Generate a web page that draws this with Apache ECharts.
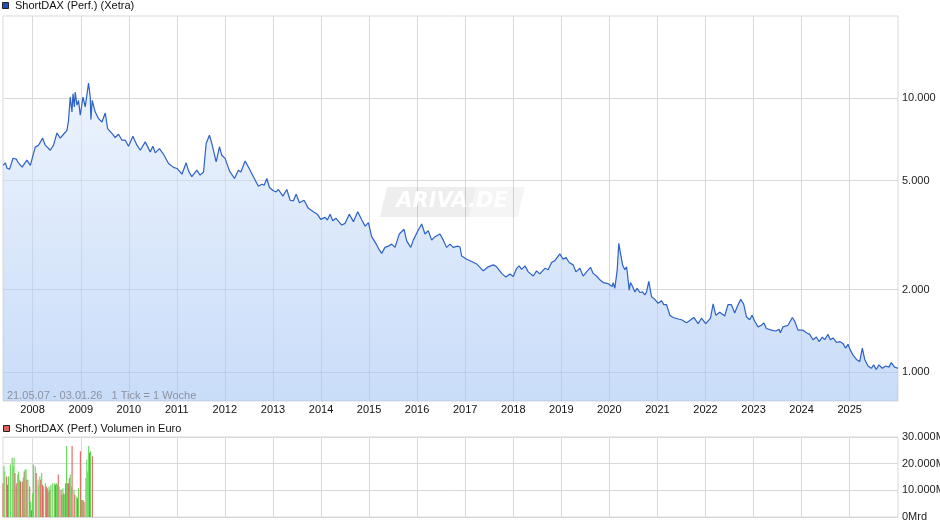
<!DOCTYPE html>
<html><head><meta charset="utf-8">
<script src="https://cdn.jsdelivr.net/npm/echarts@6/dist/echarts.min.js"></script>
<style>html,body{margin:0;padding:0;background:#fff}#c{width:940px;height:526px}</style>
</head><body><div id="c"></div>
<script>
// ---------- DATA ----------
const perfDates = [
'2007-05-21','2007-05-31','2007-06-08','2007-06-21','2007-07-10','2007-08-05','2007-08-30','2007-09-17','2007-10-13','2007-11-19','2007-12-15','2007-12-29',
'2008-01-21','2008-02-15','2008-03-17','2008-04-06','2008-05-14','2008-06-08','2008-07-04','2008-07-29','2008-08-23','2008-09-18','2008-09-30','2008-10-13','2008-10-26','2008-11-03','2008-11-13','2008-11-20','2008-12-03','2008-12-15','2008-12-28',
'2009-01-18','2009-02-04','2009-03-01','2009-03-14','2009-03-19','2009-03-29','2009-04-21','2009-05-16','2009-06-11','2009-07-06','2009-07-24','2009-08-26','2009-09-20','2009-10-15','2009-11-10','2009-12-05','2009-12-30',
'2010-02-01','2010-03-04','2010-03-29','2010-05-06','2010-06-13','2010-07-03','2010-07-21','2010-08-22','2010-09-22','2010-10-30','2010-12-07',
'2011-01-02','2011-02-09','2011-03-13','2011-03-31','2011-04-25','2011-06-02','2011-06-27','2011-07-23','2011-08-12','2011-09-06','2011-09-24','2011-10-27','2011-11-21','2011-12-09',
'2012-01-03','2012-02-05','2012-03-14','2012-04-13','2012-05-02','2012-06-03','2012-06-28','2012-08-05','2012-09-12','2012-10-08','2012-10-26','2012-11-15','2012-12-05',
'2013-01-04','2013-01-25','2013-02-11','2013-03-17','2013-04-16','2013-05-11','2013-06-05','2013-06-26','2013-07-21','2013-08-25','2013-09-27','2013-11-04','2013-12-04','2013-12-30',
'2014-02-01','2014-02-18','2014-03-11','2014-03-31','2014-04-25','2014-06-08','2014-07-03','2014-08-04','2014-09-04','2014-10-07','2014-11-07','2014-12-02','2014-12-27',
'2015-01-21','2015-02-28','2015-03-20','2015-04-07','2015-05-02','2015-05-27','2015-06-22','2015-07-17','2015-08-19','2015-09-24','2015-10-14','2015-11-14','2015-12-03',
'2016-01-10','2016-02-05','2016-03-01','2016-03-26','2016-04-21','2016-05-16','2016-06-23','2016-07-18','2016-08-13','2016-09-07','2016-10-02','2016-11-04','2016-11-22','2016-12-05',
'2017-01-12','2017-02-19','2017-03-29','2017-04-23','2017-05-18','2017-06-25','2017-08-02','2017-08-28','2017-10-05','2017-11-06','2017-12-07',
'2018-01-01','2018-01-27','2018-02-15','2018-03-05','2018-03-31','2018-04-25','2018-06-02','2018-06-27','2018-07-22','2018-08-29','2018-09-23','2018-10-19','2018-11-13','2018-12-21',
'2019-01-15','2019-02-05','2019-03-02','2019-04-01','2019-04-22','2019-05-22','2019-06-16','2019-07-12','2019-08-11','2019-08-31','2019-09-26','2019-10-21','2019-11-15','2019-12-23',
'2020-01-23','2020-01-30','2020-02-12','2020-03-01','2020-03-13','2020-03-26','2020-04-11','2020-04-28','2020-05-11','2020-05-19','2020-05-31','2020-06-10','2020-06-26','2020-07-13','2020-07-30','2020-08-20','2020-09-09','2020-09-27','2020-10-10','2020-10-27','2020-11-17','2020-12-12',
'2021-01-06','2021-02-01','2021-02-18','2021-03-11','2021-04-05','2021-04-30','2021-06-07','2021-07-03','2021-08-10','2021-09-04','2021-10-04','2021-11-06','2021-12-01',
'2022-01-03','2022-02-08','2022-02-28','2022-03-20','2022-04-19','2022-05-02','2022-05-27','2022-06-21','2022-07-17','2022-08-11','2022-09-01','2022-09-26','2022-10-18','2022-11-08','2022-12-03','2022-12-21',
'2023-01-10','2023-02-04','2023-03-02','2023-03-20','2023-04-09','2023-05-17','2023-06-19','2023-07-14','2023-07-24','2023-08-13','2023-09-20','2023-10-23','2023-11-10','2023-12-05',
'2024-01-12','2024-02-07','2024-03-03','2024-03-28','2024-04-23','2024-05-13','2024-06-07','2024-06-25','2024-07-20','2024-08-07','2024-08-27','2024-09-22','2024-10-17','2024-11-11','2024-12-01','2024-12-19',
'2025-01-06','2025-01-26','2025-02-21','2025-03-18','2025-04-07','2025-04-25','2025-05-20','2025-06-15','2025-07-02','2025-07-22','2025-08-11','2025-09-06','2025-10-01','2025-10-26','2025-11-13','2025-12-08','2026-01-03'
];
const perfValues = [
5690,5610,5810,5550,5510,6040,5990,5790,5600,5940,5690,5690,
6630,6740,7150,6740,6460,6740,7470,7150,7390,7640,8310,10110,8910,10400,9300,10540,9430,9830,8670,
10110,9300,11370,10110,8360,9830,8910,8430,8190,8840,7750,7440,7190,7390,7030,7030,6680,
7270,6740,6460,6930,6370,6680,6320,6550,6240,5780,5590,
5540,5280,5810,5430,5170,5460,5240,5380,6840,7330,6840,5860,6650,6190,
6030,5430,5090,5460,5380,5900,5610,5170,4770,4850,4810,5090,4720,
4590,4550,4640,4390,4640,4240,4220,4460,4150,4240,3960,3850,3770,3610,
3670,3590,3770,3570,3640,3440,3490,3770,3540,3850,3590,3410,3510,
3120,2910,2790,2710,2850,2880,2930,2850,3190,3320,3010,2850,3030,
3300,3470,3190,3280,3030,3120,3190,3030,2850,2930,2850,2880,2860,2650,
2580,2530,2480,2410,2340,2420,2460,2420,2290,2220,2280,
2230,2390,2440,2370,2440,2320,2240,2340,2280,2390,2360,2510,2550,2700,
2580,2620,2510,2460,2320,2390,2240,2320,2410,2290,2240,2170,2120,2100,
2050,2120,2020,2360,2950,2710,2460,2360,2420,2260,1990,2120,2050,1960,2020,1950,1960,1910,1960,2140,1880,1840,
1780,1820,1760,1760,1610,1580,1560,1550,1510,1540,1580,1500,1570,
1500,1570,1770,1610,1650,1670,1600,1760,1760,1640,1740,1840,1770,1590,1550,1610,
1530,1460,1480,1510,1440,1420,1410,1430,1390,1460,1480,1580,1530,1420,
1420,1390,1370,1310,1340,1290,1340,1310,1370,1310,1330,1280,1290,1270,1220,1260,
1200,1150,1110,1090,1220,1110,1050,1030,1060,1020,1060,1030,1050,1040,1080,1040,1030
];
const rangeStart = '2007-05-21';
const rangeEnd = '2026-01-03';
const yearTicks = ['2008-01-01','2009-01-01','2010-01-01','2011-01-01','2012-01-01','2013-01-01','2014-01-01','2015-01-01','2016-01-01','2017-01-01','2018-01-01','2019-01-01','2020-01-01','2021-01-01','2022-01-01','2023-01-01','2024-01-01','2025-01-01'];
const priceTicks = [1000, 2000, 5000, 10000];
const volumeTicks = [0, 10000, 20000, 30000];
// volume bars: week number counted from rangeStart, value (Mrd), direction (1 up / -1 down)
const volWeeks = [0,1,2,4,5,6,8,10,11,12,13,14,15,16,17,18,19,21,22,23,24,25,26,27,29,30,31,32,33,35,36,38,39,40,41,42,43,44,46,47,48,49,50,51,52,54,56,57,58,59,60,61,63,64,65,66,67,68,69,70,71,72,73,74,75,77,78,80,81,82,84,85,86,87,88,90,91,92,93,94,95,97];
const volValues = [12700,19000,17100,15200,12100,15200,19700,22200,19000,22200,16500,11400,12700,15900,17100,14000,13300,13300,14800,17100,17800,17800,14000,14000,11400,5700,2500,8900,19700,19000,16500,14000,12100,15200,14000,16500,12100,11400,12700,11400,10800,9500,11400,10200,12100,12700,12700,12100,12700,12100,15900,11400,10200,8300,10800,8900,8300,12700,26600,12700,12700,14600,15900,11400,26600,10200,8300,7600,7000,10800,24700,6400,6400,6400,5700,14600,21600,17100,26600,24100,24700,22800];
const volDirs = [-1,1,1,-1,-1,1,1,1,1,1,-1,1,-1,1,1,1,-1,-1,1,-1,1,1,-1,1,-1,1,-1,1,1,1,-1,1,1,1,-1,1,-1,1,1,-1,-1,-1,1,-1,1,1,1,-1,1,1,-1,1,-1,-1,1,-1,1,-1,1,1,-1,-1,1,1,-1,1,-1,1,-1,1,-1,1,-1,1,-1,1,1,1,1,-1,1,-1];

// ---------- CHART ----------
const FONT = '"Liberation Sans", Arial, sans-serif';
const GRID = '#d9d9d9';
const GREEN = '#66d85a', RED = '#e0625e';
const de = n => String(Math.round(n)).replace(/\B(?=(\d{3})+(?!\d))/g, '.');
const ts = s => new Date(s + 'T00:00:00').getTime();
const WEEK = 7 * 24 * 3600 * 1000;

const yearTickTs = yearTicks.map(ts);
const volDates = volWeeks.map(w => ts(rangeStart) + WEEK * w);

const chart = echarts.init(document.getElementById('c'), null, {renderer: 'canvas'});
const xBase = (idx, showLabel) => ({
  type: 'value', gridIndex: idx, min: ts(rangeStart), max: ts(rangeEnd),
  axisLine: {show: false},
  axisTick: {show: false, customValues: yearTickTs},
  axisLabel: {show: showLabel, customValues: yearTickTs, formatter: v => String(new Date(v).getFullYear()),
    color: '#111', fontSize: 11, fontFamily: FONT, margin: 3},
  splitLine: {show: true, lineStyle: {color: GRID, width: 1}}
});
chart.setOption({
  animation: false,
  backgroundColor: '#ffffff',
  grid: [
    {left: 3, right: 42, top: 16, height: 385, show: true, borderColor: GRID, borderWidth: 1, backgroundColor: 'transparent', containLabel: false, outerBoundsMode: 'none'},
    {left: 3, right: 42, top: 437, height: 80, show: true, borderColor: GRID, borderWidth: 1, backgroundColor: 'transparent', containLabel: false, outerBoundsMode: 'none'}
  ],
  xAxis: [xBase(0, true), xBase(1, false)],
  yAxis: [
    {type: 'log', logBase: 10, gridIndex: 0, position: 'right', min: 782, max: 20000,
     axisLine: {show: false}, axisTick: {show: false, customValues: priceTicks},
     axisLabel: {customValues: priceTicks, formatter: v => de(v), color: '#222', fontSize: 11, fontFamily: FONT, margin: 4},
     splitLine: {show: true, lineStyle: {color: GRID, width: 1}}},
    {type: 'value', gridIndex: 1, position: 'right', min: 0, max: 30000, interval: 10000,
     axisLine: {show: false}, axisTick: {show: false},
     axisLabel: {formatter: v => de(v) + 'Mrd', color: '#222', fontSize: 11, fontFamily: FONT, margin: 4},
     splitLine: {show: true, lineStyle: {color: GRID, width: 1}}}
  ],
  series: [
    {type: 'line', name: 'ShortDAX (Perf.) (Xetra)', xAxisIndex: 0, yAxisIndex: 0,
     data: perfDates.map((d, i) => [ts(d), perfValues[i]]),
     showSymbol: false, symbol: 'none', z: 3,
     lineStyle: {color: '#2c61c6', width: 1.2},
     areaStyle: {origin: 'start', color: new echarts.graphic.LinearGradient(0, 16, 0, 401, [
       {offset: 0, color: 'rgba(236,243,254,0.8)'},
       {offset: 1, color: 'rgba(158,193,243,0.8)'}], true)}},
    {type: 'bar', name: 'ShortDAX (Perf.) Volumen in Euro', xAxisIndex: 1, yAxisIndex: 1,
     barWidth: 1.1,
     data: volDates.map((d, i) => ({value: [d, volValues[i]], itemStyle: {color: volDirs[i] > 0 ? GREEN : RED}}))}
  ],
  graphic: [
    {type: 'polygon', z: 1, silent: true, shape: {points: [[387, 187], [476, 187], [469, 217], [380, 217]]}, style: {fill: 'rgba(0,0,0,0.065)'}},
    {type: 'polygon', z: 1, silent: true, shape: {points: [[476, 187], [525, 187], [518, 217], [469, 217]]}, style: {fill: 'rgba(0,0,0,0.038)'}},
    {type: 'text', z: 1, silent: true, x: 452, y: 202, style: {text: 'ARIVA.DE', font: 'italic bold 21px "DejaVu Sans", sans-serif', fill: 'rgba(255,255,255,0.95)', align: 'center', verticalAlign: 'middle'}},
    {type: 'rect', shape: {x: 2.5, y: 2.5, width: 6, height: 6}, style: {fill: '#1f4fb8', stroke: '#222', lineWidth: 1}},
    {type: 'text', x: 15, y: 6, style: {text: 'ShortDAX (Perf.) (Xetra)', font: '11px ' + FONT, fill: '#111', verticalAlign: 'middle'}},
    {type: 'rect', shape: {x: 3.5, y: 425.5, width: 6, height: 6}, style: {fill: RED, stroke: '#222', lineWidth: 1}},
    {type: 'text', x: 15, y: 428.5, style: {text: 'ShortDAX (Perf.) Volumen in Euro', font: '11px ' + FONT, fill: '#111', verticalAlign: 'middle'}},
    {type: 'text', z: 10, x: 7, y: 395.5, style: {text: '21.05.07 - 03.01.26   1 Tick = 1 Woche', font: '11px ' + FONT, fill: '#8c93a0', verticalAlign: 'middle'}}
  ]
});
</script>
</body></html>
